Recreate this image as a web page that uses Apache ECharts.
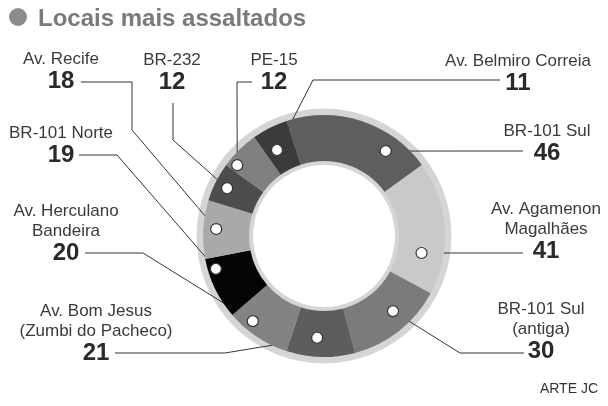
<!DOCTYPE html>
<html>
<head>
<meta charset="utf-8">
<script src="https://cdn.jsdelivr.net/npm/echarts@6/dist/echarts.min.js"></script>
<style>
  html, body { margin: 0; background: #fff; }
  #chart { width: 608px; height: 406px; }
</style>
</head>
<body>
<div id="chart"></div>
<script>
// slices, clockwise starting just left of 12 o'clock
const locais = [
  'BR-101 Sul',
  'Av. Agamenon\nMagalhães',
  'BR-101 Sul\n(antiga)',
  'Av. Bom Jesus\n(Zumbi do Pacheco)',
  'Av. Herculano\nBandeira',
  'BR-101 Norte',
  'Av. Recife',
  'BR-232',
  'PE-15',
  'Av. Belmiro Correia'
];
const assaltos = [46, 41, 30, 21, 20, 19, 18, 12, 12, 11];
const cores = ['#5e5e5e', '#c9c9c9', '#7b7b7b', '#5d5d5d', '#838383', '#050505', '#a9a9a9', '#4d4d4d', '#808080', '#3b3b3b'];

const CX = 324, CY = 236;
const START = 108;
const total = assaltos.reduce((a, b) => a + b, 0);

// where the white dot sits in each slice: [share of the slice angle, radius px]
const dotAt = [[0.75, 105], [0.715, 99], [0.41, 102], [0.57, 102], [0.70, 111],
               [0.80, 113], [0.52, 108], [0.48, 108], [0.17, 112], [0.38, 98]];

// label block (center x, top y) and the leader line bends after the dot
const labelAt = [
  { x: 547, y: 121, line: [[523, 151]] },
  { x: 546, y: 199, line: [[523, 253]] },
  { x: 541, y: 299, line: [[460, 353], [524, 353]] },
  { x: 96, y: 301, line: [[225, 353], [115, 353]] },
  { x: 66, y: 201, line: [[143, 253], [85, 253]] },
  { x: 61, y: 123, line: [[117, 155], [79, 155]] },
  { x: 61, y: 49, line: [[132, 130], [132, 82], [81, 82]] },
  { x: 172, y: 50, line: [[173, 140], [173, 103]] },
  { x: 274, y: 50, line: [[237, 82], [252, 82]] },
  { x: 518, y: 51, line: [[313, 80], [500, 80]] }
];

const dotValue = assaltos.map((v, i) => {
  const before = assaltos.slice(0, i).reduce((a, b) => a + b, 0);
  return [dotAt[i][1], before + dotAt[i][0] * v];
});

function dotPixel(i) {
  const [r, a] = dotValue[i];
  const t = ((90 - START) + a / total * 360) * Math.PI / 180;
  return [CX + r * Math.sin(t), CY - r * Math.cos(t)];
}

const font = "'Liberation Sans', Arial, sans-serif";
const chart = echarts.init(document.getElementById('chart'));

chart.setOption({
  animation: false,
  textStyle: { fontFamily: font },
  title: [
    {
      text: 'Locais mais assaltados',
      left: 33, top: 2,
      textStyle: { fontSize: 24, fontWeight: 'bold', color: '#7a7a7a', fontFamily: font }
    },
    {
      text: 'ARTE JC',
      right: 5, bottom: 5,
      textStyle: { fontSize: 14, fontWeight: 'normal', color: '#333', fontFamily: font }
    }
  ],
  graphic: [
    { type: 'circle', shape: { cx: 18, cy: 17, r: 9 }, style: { fill: '#8c8c8c' } }
  ],
  polar: { center: [CX, CY], radius: 121 },
  angleAxis: { type: 'value', min: 0, max: total, startAngle: START, clockwise: true, show: false },
  radiusAxis: { type: 'value', min: 0, max: 121, show: false },
  series: [
    {
      type: 'pie',
      silent: true,
      z: 1,
      center: [CX, CY],
      radius: [71, 127.5],
      label: { show: false },
      labelLine: { show: false },
      itemStyle: { color: '#d5d5d5' },
      data: [{ value: 1 }]
    },
    {
      type: 'pie',
      silent: true,
      z: 2,
      center: [CX, CY],
      radius: [75, 121],
      startAngle: START,
      clockwise: true,
      avoidLabelOverlap: false,
      data: assaltos.map((v, i) => ({ name: locais[i], value: v, itemStyle: { color: cores[i] } })),
      label: {
        show: true,
        position: 'outside',
        formatter: p => p.name.split('\n').map(s => `{n|${s}}`).join('\n') + `\n{v|${p.value}}`,
        rich: {
          n: { fontSize: 17, lineHeight: 20, color: '#3a3a3a', align: 'center', fontFamily: font },
          v: { fontSize: 24, lineHeight: 25, fontWeight: 'bold', color: '#2a2a2a', align: 'center', fontFamily: font }
        }
      },
      labelLine: { show: true, lineStyle: { color: '#333', width: 1 } },
      labelLayout: p => {
        const L = labelAt[p.dataIndex];
        return {
          x: L.x, y: L.y, align: 'center', verticalAlign: 'top',
          labelLinePoints: [dotPixel(p.dataIndex)].concat(L.line)
        };
      }
    },
    {
      type: 'scatter',
      coordinateSystem: 'polar',
      silent: true,
      z: 10,
      symbolSize: 11,
      itemStyle: { color: '#fff', borderColor: '#333', borderWidth: 1.2, opacity: 1 },
      data: dotValue
    }
  ]
});
</script>
</body>
</html>
